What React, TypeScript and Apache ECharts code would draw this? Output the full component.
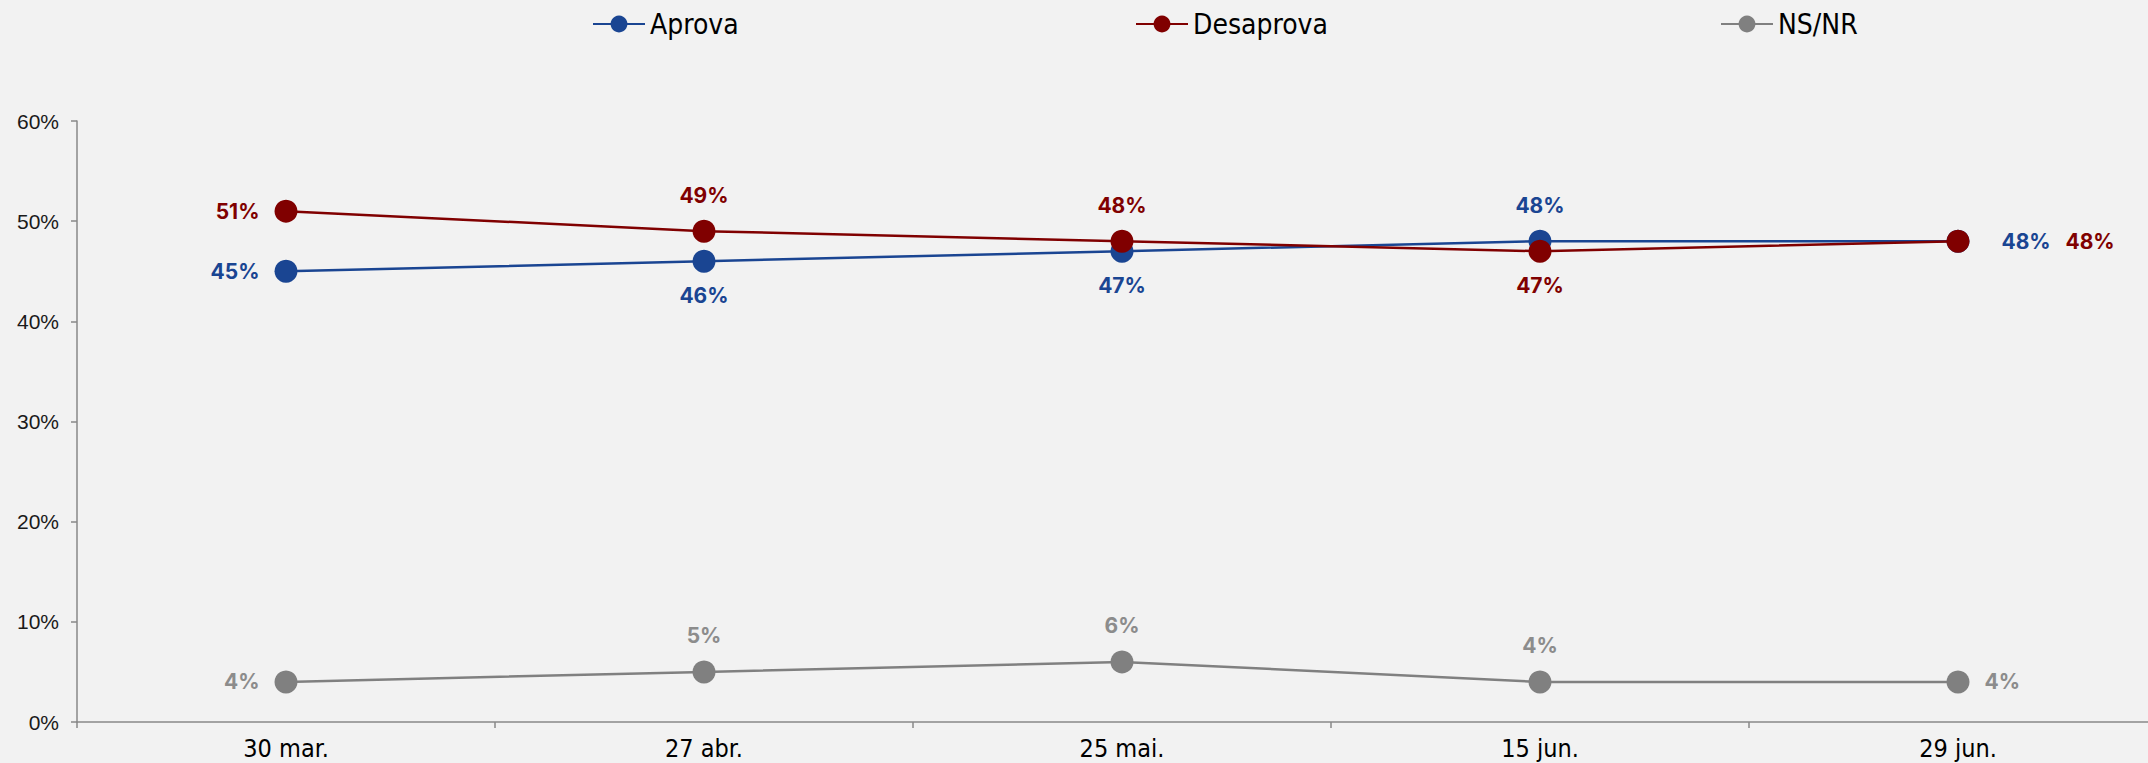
import React, { useEffect, useRef } from "react";
import * as echarts from "echarts";

const categories = ["30 mar.", "27 abr.", "25 mai.", "15 jun.", "29 jun."];
const aprova = [45, 46, 47, 48, 48];
const desaprova = [51, 49, 48, 47, 48];
const nsnr = [4, 5, 6, 4, 4];
const yTicks = { min: 0, max: 60, interval: 10 };

const aprovaPos = ["left", "bottom", "bottom", "top", "right"];
const desaprovaPos = ["left", "top", "top", "bottom", "right"];
const nsnrPos = ["left", "top", "top", "top", "right"];

const BLUE = "#1a4592";
const RED = "#800000";
const GRAY = "#808080";
const GRAY_LABEL = "#8c8c8c";

function buildData(values: number[], pos: string[], rightDist: number) {
  return values.map((v, i) => ({
    value: v,
    label: {
      position: pos[i],
      distance:
        pos[i] === "right" ? rightDist : pos[i] === "left" ? 15 : pos[i] === "top" ? 14 : 12,
    },
  }));
}

export default function App() {
  const ref = useRef<HTMLDivElement>(null);
  useEffect(() => {
    if (!ref.current) return;
    const chart = echarts.init(ref.current, undefined, { renderer: "svg" });
    const labelFont = {
      fontFamily: "Inter",
      fontWeight: "bold" as const,
      fontSize: 21,
    };
    const lineSeries = (name: string, data: any[], color: string, labelColor: string, z: number) => ({
      name,
      type: "line",
      data,
      symbol: "circle",
      symbolSize: 23,
      z,
      lineStyle: { color, width: 2.5 },
      itemStyle: { color },
      label: {
        show: true,
        formatter: "{c}%",
        color: labelColor,
        ...labelFont,
      },
    });
    const legendBase = {
      top: 10,
      padding: 0,
      itemWidth: 52,
      itemHeight: 21,
      textStyle: {
        fontFamily: "Liberation Sans Narrow, DejaVu Sans Condensed, sans-serif",
        fontSize: 28,
        color: "#000",
      },
    };
    chart.setOption({
      animation: false,
      backgroundColor: "#f2f2f2",
      legend: [
        { ...legendBase, left: 592, data: ["Aprova"] },
        { ...legendBase, left: 1135, data: ["Desaprova"] },
        { ...legendBase, left: 1720, data: ["NS/NR"] },
      ],
      grid: { left: 77, top: 121, right: 0, bottom: 41, containLabel: false },
      xAxis: {
        type: "category",
        data: categories,
        boundaryGap: true,
        axisLine: { lineStyle: { color: "#898989", width: 1.5 } },
        axisTick: { show: true, interval: 0, length: 6, lineStyle: { color: "#898989", width: 1.5 } },
        axisLabel: {
          interval: 0,
          margin: 14,
          color: "#000",
          fontFamily: "Liberation Sans Narrow, DejaVu Sans Condensed, sans-serif",
          fontSize: 25,
        },
      },
      yAxis: {
        type: "value",
        min: yTicks.min,
        max: yTicks.max,
        interval: yTicks.interval,
        splitLine: { show: false },
        axisLine: { show: true, lineStyle: { color: "#898989", width: 1.5 } },
        axisTick: { show: true, length: 6, lineStyle: { color: "#898989", width: 1.5 } },
        axisLabel: {
          formatter: "{value}%",
          margin: 18,
          color: "#1a1a1a",
          fontFamily: "Liberation Sans, Arial, sans-serif",
          fontSize: 21,
        },
      },
      series: [
        lineSeries("Aprova", buildData(aprova, aprovaPos, 32), BLUE, BLUE, 3),
        lineSeries("Desaprova", buildData(desaprova, desaprovaPos, 96), RED, RED, 4),
        lineSeries("NS/NR", buildData(nsnr, nsnrPos, 15), GRAY, GRAY_LABEL, 2),
      ],
    });
    return () => chart.dispose();
  }, []);
  return (
    <div
      style={{
        position: "absolute",
        left: 0,
        top: 0,
        width: 2148,
        height: 763,
        overflow: "hidden",
        background: "#f2f2f2",
      }}
    >
      <div ref={ref} style={{ width: 2167, height: 763 }} />
    </div>
  );
}
